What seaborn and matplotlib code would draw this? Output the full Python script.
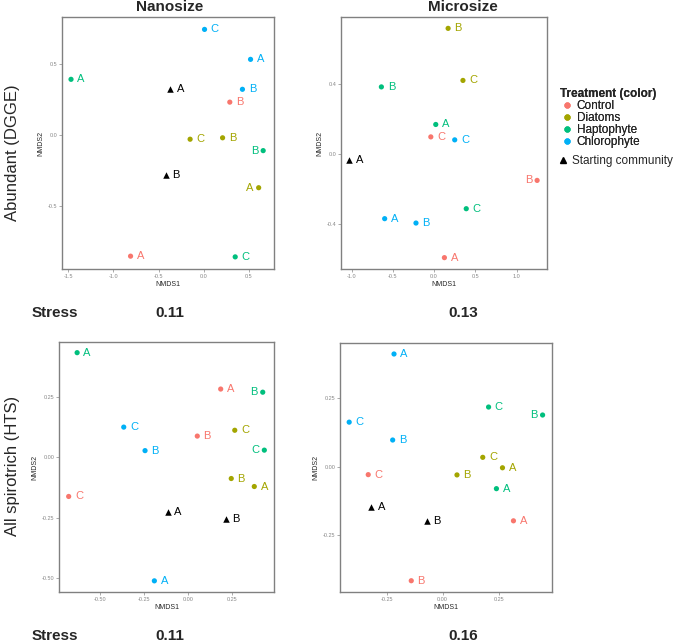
import matplotlib
matplotlib.use("Agg")
import matplotlib.pyplot as plt
from matplotlib.lines import Line2D
import pandas as pd
import seaborn as sns

# treatment levels and colours
treatments = ["Control", "Diatoms", "Haptophyte", "Chlorophyte"]
palette = ["#F8766D", "#A3A500", "#00BF7D", "#00B0F6"]
start_name = "Starting community"

# Abundant (DGGE), Nanosize
nano_dgge_trt = ["Chlorophyte", "Chlorophyte", "Chlorophyte", "Control", "Haptophyte", "Start",
                 "Diatoms", "Diatoms", "Haptophyte", "Start", "Diatoms", "Control", "Haptophyte"]
nano_dgge_lab = ["C", "A", "B", "B", "A", "A", "C", "B", "B", "B", "A", "A", "C"]
nano_dgge_x = [0.01, 0.52, 0.43, 0.29, -1.47, -0.37, -0.15, 0.21, 0.66, -0.42, 0.61, -0.81, 0.35]
nano_dgge_y = [0.74, 0.53, 0.32, 0.23, 0.39, 0.32, -0.03, -0.02, -0.11, -0.28, -0.37, -0.85, -0.855]

# Abundant (DGGE), Microsize
micro_dgge_trt = ["Diatoms", "Diatoms", "Haptophyte", "Haptophyte", "Control", "Chlorophyte", "Start",
                  "Control", "Haptophyte", "Chlorophyte", "Chlorophyte", "Control"]
micro_dgge_lab = ["B", "C", "B", "A", "C", "C", "A", "B", "C", "A", "B", "A"]
micro_dgge_x = [0.17, 0.35, -0.64, 0.02, -0.04, 0.25, -1.03, 1.25, 0.39, -0.60, -0.22, 0.125]
micro_dgge_y = [0.718, 0.42, 0.383, 0.168, 0.097, 0.08, -0.038, -0.152, -0.314, -0.371, -0.396, -0.594]

# All spirotrich (HTS), Nanosize
nano_hts_trt = ["Haptophyte", "Control", "Haptophyte", "Chlorophyte", "Diatoms", "Control", "Chlorophyte",
                "Haptophyte", "Diatoms", "Diatoms", "Control", "Start", "Start", "Chlorophyte"]
nano_hts_lab = ["A", "A", "B", "C", "C", "B", "B", "C", "B", "A", "C", "A", "B", "A"]
nano_hts_x = [-0.632, 0.184, 0.423, -0.367, 0.264, 0.051, -0.246, 0.432, 0.244, 0.375, -0.68, -0.115, 0.212, -0.193]
nano_hts_y = [0.431, 0.281, 0.268, 0.124, 0.111, 0.087, 0.027, 0.029, -0.088, -0.121, -0.162, -0.228, -0.254, -0.51]

# All spirotrich (HTS), Microsize
micro_hts_trt = ["Chlorophyte", "Haptophyte", "Haptophyte", "Chlorophyte", "Chlorophyte", "Diatoms", "Diatoms",
                 "Diatoms", "Control", "Haptophyte", "Start", "Control", "Start", "Control"]
micro_hts_lab = ["A", "C", "B", "C", "B", "C", "A", "B", "C", "A", "A", "A", "B", "B"]
micro_hts_x = [-0.217, 0.205, 0.446, -0.417, -0.223, 0.179, 0.267, 0.064, -0.332, 0.24, -0.318, 0.316, -0.071, -0.14]
micro_hts_y = [0.41, 0.217, 0.188, 0.162, 0.097, 0.034, -0.004, -0.03, -0.029, -0.08, -0.148, -0.197, -0.199, -0.415]

col_titles = ["Nanosize", "Microsize"]
row_titles = ["Abundant (DGGE)", "All spirotrich (HTS)"]
stress_top = ["0.11", "0.13"]
stress_bottom = ["0.11", "0.16"]

W, H = 673, 642
sns.set_theme(style="white")
plt.rcParams["font.family"] = ["Liberation Sans", "DejaVu Sans"]
fig = plt.figure(figsize=(W / 100, H / 100), dpi=100)


def px_axes(l, t, r, b):
    return fig.add_axes([l / W, 1 - b / H, (r - l) / W, (b - t) / H])


def panel(rect, trt, lab, xs, ys, xlim, ylim, xt, xtl, yt, ytl):
    ax = px_axes(*rect)
    df = pd.DataFrame({"trt": trt, "lab": lab, "x": xs, "y": ys})
    pts = df[df.trt != "Start"]
    st = df[df.trt == "Start"]
    sns.scatterplot(data=pts, x="x", y="y", hue="trt", hue_order=treatments,
                    palette=palette, s=14, linewidth=0, legend=False, ax=ax)
    sns.scatterplot(data=st, x="x", y="y", color="black", marker="^", s=22,
                    linewidth=0, legend=False, ax=ax)
    ax.set_xlim(xlim)
    ax.set_ylim(ylim)
    colmap = dict(zip(treatments, palette))
    right_px = ax.transAxes.transform((1, 0))[0]
    for _, row in df.iterrows():
        c = colmap.get(row.trt, "black")
        px = ax.transData.transform((row.x, row.y))[0]
        # labels that would run past the frame go on the left of the point
        if px + 16 > right_px:
            ax.annotate(row.lab, (row.x, row.y), xytext=(-3.5, 0), textcoords="offset points",
                        ha="right", va="center", fontsize=8, color=c)
        else:
            ax.annotate(row.lab, (row.x, row.y), xytext=(4.5, 0), textcoords="offset points",
                        ha="left", va="center", fontsize=8, color=c)
    ax.set_xticks(xt)
    ax.set_xticklabels(xtl)
    ax.set_yticks(yt)
    ax.set_yticklabels(ytl)
    ax.tick_params(axis="both", labelsize=4, colors="#888888", length=2, width=0.5, pad=1.5,
                   bottom=True, left=True)
    ax.set_xlabel("NMDS1", fontsize=5, labelpad=1.5)
    ax.set_ylabel("NMDS2", fontsize=5, labelpad=2)
    for sp in ax.spines.values():
        sp.set_color("#808080")
        sp.set_linewidth(1.0)
    return ax


panel((62, 17, 274, 269), nano_dgge_trt, nano_dgge_lab, nano_dgge_x, nano_dgge_y,
      (-1.57, 0.78), (-0.94, 0.827),
      [-1.5, -1.0, -0.5, 0.0, 0.5], ["-1.5", "-1.0", "-0.5", "0.0", "0.5"],
      [-0.5, 0.0, 0.5], ["-0.5", "0.0", "0.5"])
panel((341, 17, 547, 269), micro_dgge_trt, micro_dgge_lab, micro_dgge_x, micro_dgge_y,
      (-1.13, 1.37), (-0.659, 0.783),
      [-1.0, -0.5, 0.0, 0.5, 1.0], ["-1.0", "-0.5", "0.0", "0.5", "1.0"],
      [-0.4, 0.0, 0.4], ["-0.4", "0.0", "0.4"])
panel((59, 342, 274, 592), nano_hts_trt, nano_hts_lab, nano_hts_x, nano_hts_y,
      (-0.735, 0.487), (-0.556, 0.475),
      [-0.5, -0.25, 0.0, 0.25], ["-0.50", "-0.25", "0.00", "0.25"],
      [-0.5, -0.25, 0.0, 0.25], ["-0.50", "-0.25", "0.00", "0.25"])
panel((340, 343, 552, 592), micro_hts_trt, micro_hts_lab, micro_hts_x, micro_hts_y,
      (-0.458, 0.488), (-0.456, 0.45),
      [-0.25, 0.0, 0.25], ["-0.25", "0.00", "0.25"],
      [-0.25, 0.0, 0.25], ["-0.25", "0.00", "0.25"])

# column titles, row titles, stress values
for cx, t in zip([169.5, 463.3], col_titles):
    fig.text(cx / W, 1 - 7 / H, t, ha="center", va="center", fontsize=11, fontweight="bold")
for cy, t in zip([153, 466], row_titles):
    fig.text(13 / W, 1 - cy / H, t, ha="center", va="center", rotation=90, fontsize=12)
for sy, vals in zip([313, 636], [stress_top, stress_bottom]):
    fig.text(32 / W, 1 - sy / H, "Stress", ha="left", va="center", fontsize=11, fontweight="bold")
    for cx, v in zip([169.5, 463.3], vals):
        fig.text(cx / W, 1 - sy / H, v, ha="center", va="center", fontsize=11, fontweight="bold")

# legend
handles = [Line2D([], [], marker="o", linestyle="", color=c, markersize=3.5) for c in palette]
leg1 = fig.legend(handles, treatments, title="Treatment (color)", loc="upper left",
                  bbox_to_anchor=(555 / W, 1 - 83 / H), frameon=False, fontsize=8.5,
                  title_fontproperties={"weight": "bold", "size": 8.5}, handlelength=1.2,
                  handletextpad=0.25, labelspacing=0.0, borderaxespad=0, alignment="left")
fig.add_artist(leg1)
tri = [Line2D([], [], marker="^", linestyle="", color="black", markersize=4.5)]
fig.legend(tri, [start_name], loc="upper left", bbox_to_anchor=(555 / W, 1 - 150 / H),
           frameon=False, fontsize=8.5, handlelength=0.6, handletextpad=0.4, borderaxespad=0)

fig.savefig("out.png", dpi=100)
